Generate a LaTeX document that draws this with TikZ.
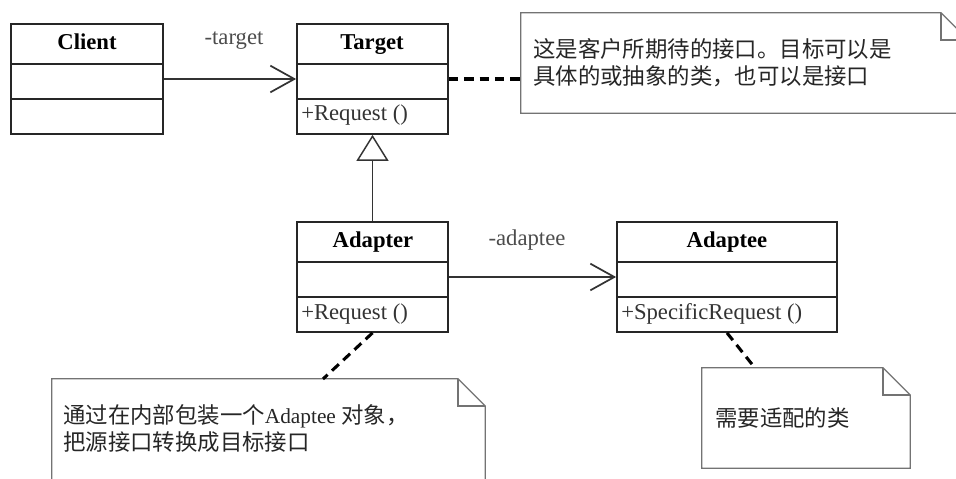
\documentclass[tikz,border=0pt]{standalone}
\usepackage{fontspec}
\newfontfamily\latinf{Liberation Serif}
\newfontfamily\cjk{Noto Sans CJK SC}
\usetikzlibrary{arrows.meta,fit}
\begin{document}
\begin{tikzpicture}[x=0.75pt,y=-0.75pt,
  classbox/.style={draw=black!85, line width=1.3pt, inner sep=0pt},
  rowline/.style={draw=black!85, line width=1.3pt},
  cname/.style={font=\latinf\bfseries\fontsize{17}{20}\selectfont, text=black, inner sep=0pt, anchor=base},
  member/.style={font=\latinf\fontsize{17}{20}\selectfont, text=black!80, anchor=base west, inner sep=0pt},
  rolelabel/.style={font=\latinf\fontsize{17}{20}\selectfont, text=black!70, inner sep=0pt, anchor=base},
  assoc/.style={draw=black!80, line width=0.9pt, -{Straight Barb[length=18pt,width=20pt,line width=1.3pt]}},
  general/.style={draw=black!80, line width=0.9pt, -{Triangle[open,length=19.5pt,width=24pt,line width=1.1pt]}},
  anchorline/.style={draw=black, line width=2.3pt, dash pattern=on 7pt off 4.5pt},
  notefit/.style={inner sep=0pt},
  notebox/.style={draw=black!55, line width=0.9pt, fill=white},
  notetext/.style={font=\cjk\fontsize{16.8}{20.5}\selectfont, text=black!85, anchor=west, align=left, inner sep=0pt}
]
\useasboundingbox (0,0) rectangle (956,478);
\fill[white] (0,0) rectangle (956,478);
\clip (0,0) rectangle (956,478);

% ---- classes ----
\node[classbox, fit={(11,24) (163,134)}] (client) {};
\draw[rowline] (client.west |- 0,64) -- (client.east |- 0,64);
\draw[rowline] (client.west |- 0,99) -- (client.east |- 0,99);
\node[cname] (clientname) at (87,50) {Client};

\node[classbox, fit={(297,24) (448,134)}] (target) {};
\draw[rowline] (target.west |- 0,64) -- (target.east |- 0,64);
\draw[rowline] (target.west |- 0,99) -- (target.east |- 0,99);
\node[cname] (targetname) at (372,50) {Target};
\node[member] (targetop) at (301,120) {+Request ()};

\node[classbox, fit={(297,222) (448,332)}] (adapter) {};
\draw[rowline] (adapter.west |- 0,262) -- (adapter.east |- 0,262);
\draw[rowline] (adapter.west |- 0,297) -- (adapter.east |- 0,297);
\node[cname] (adaptername) at (373,247) {Adapter};
\node[member] (adapterop) at (301,319) {+Request ()};

\node[classbox, fit={(617,222) (837,332)}] (adaptee) {};
\draw[rowline] (adaptee.west |- 0,262) -- (adaptee.east |- 0,262);
\draw[rowline] (adaptee.west |- 0,297) -- (adaptee.east |- 0,297);
\node[cname] (adapteename) at (727,247) {Adaptee};
\node[member] (adapteeop) at (621,319) {+SpecificRequest ()};

% ---- relations ----
\draw[assoc] (client.east) -- (target.west);
\node[rolelabel] (targetrole) at (234,45) {-target};
\draw[assoc] (adapter.east) -- (adaptee.west);
\node[rolelabel] (adapteerole) at (527,245) {-adaptee};
\draw[general] (adapter.north) -- (target.south);

% ---- notes ----
\def\fold{20.5pt}
\node[notefit, fit={(521,13) (968,113)}] (tnote) {};
\draw[notebox] (tnote.north west) -- ([xshift=-\fold]tnote.north east) -- ([yshift=-\fold]tnote.north east) -- (tnote.south east) -- (tnote.south west) -- cycle;
\draw[notebox, fill=none] ([xshift=-\fold]tnote.north east) |- ([yshift=-\fold]tnote.north east);
\node[notetext] (tnotetext) at (533,63) {这是客户所期待的接口。目标可以是\\具体的或抽象的类，也可以是接口};

\node[notefit, fit={(52,379) (485,500)}] (anote) {};
\draw[notebox] (anote.north west) -- ([xshift=-\fold]anote.north east) -- ([yshift=-\fold]anote.north east) -- (anote.south east) -- (anote.south west) -- cycle;
\draw[notebox, fill=none] ([xshift=-\fold]anote.north east) |- ([yshift=-\fold]anote.north east);
\node[notetext] (anotetext) at (63,428.5) {通过在内部包装一个{\latinf\fontsize{16}{20.5}\selectfont Adaptee }对象，\\把源接口转换成目标接口};

\node[notefit, fit={(702,368) (910,468)}] (pnote) {};
\draw[notebox] (pnote.north west) -- ([xshift=-\fold]pnote.north east) -- ([yshift=-\fold]pnote.north east) -- (pnote.south east) -- (pnote.south west) -- cycle;
\draw[notebox, fill=none] ([xshift=-\fold]pnote.north east) |- ([yshift=-\fold]pnote.north east);
\node[notetext] (pnotetext) at (715,418) {需要适配的类};

% ---- note anchors ----
\coordinate (anoteend) at (323,379);
\coordinate (pnoteend) at (755,368);
\draw[anchorline] (target.east) -- (target.east -| tnote.west);
\draw[anchorline] (adapter.south) -- (anoteend);
\draw[anchorline] (adaptee.south) -- (pnoteend);
\end{tikzpicture}
\end{document}
